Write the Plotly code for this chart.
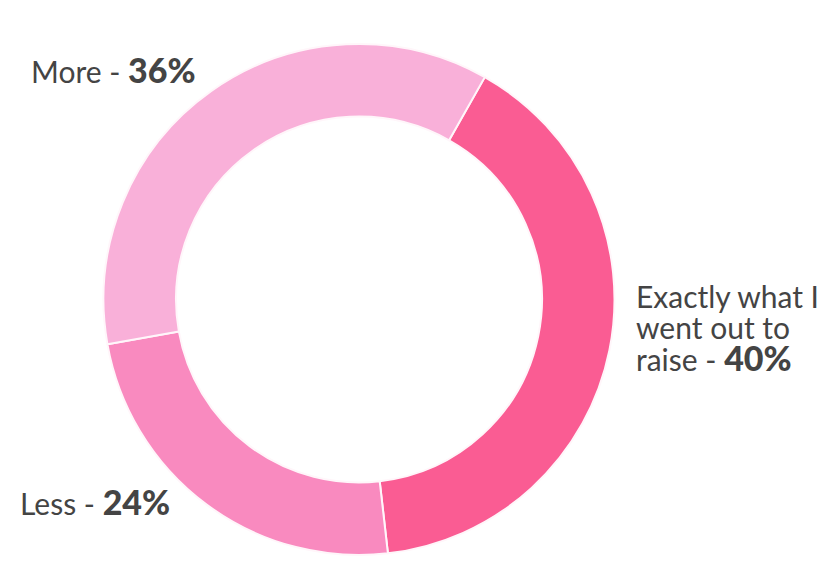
import plotly.graph_objects as go

labels = ["Exactly what I went out to raise", "Less", "More"]
values = [40, 24, 36]
colors = ["#FA5C93", "#F98ABF", "#F9B0D9"]

BOLD = "<span style='font-size:34px;font-weight:900'>{}</span>"

# label lines (text, left x px, centre y px) in page pixels
label_lines = [
    ("More - " + BOLD.format("36%"), 32, 70),
    ("Less - " + BOLD.format("24%"), 21, 501),
    ("Exactly what I", 637, 296),
    ("went out to", 637, 327),
    ("raise - " + BOLD.format("40%"), 637, 357),
]

W, H = 840, 585
OFF = 8    # page body margin
PAD = 3    # annotation padding before the first glyph


def px_x(v):
    return (v - OFF) / W


def px_y(v):
    return 1 - (v - OFF) / H


fig = go.Figure(go.Pie(
    labels=labels,
    values=values,
    hole=0.716,
    sort=False,
    direction="clockwise",
    rotation=29.5,
    textinfo="none",
    hoverinfo="label+percent",
    marker=dict(colors=colors, line=dict(color="#FFF6FA", width=2)),
    domain=dict(x=[px_x(103), px_x(615)], y=[px_y(555), px_y(44)]),
    showlegend=False,
))

for txt, lx, cy in label_lines:
    fig.add_annotation(x=px_x(lx - PAD), y=px_y(cy), xref="paper", yref="paper",
                       xanchor="left", yanchor="middle", text=txt,
                       showarrow=False, align="left",
                       font=dict(family="Lato", size=30, color="#444444"))

fig.update_layout(
    width=W, height=H,
    margin=dict(l=0, r=0, t=0, b=0),
    paper_bgcolor="white", plot_bgcolor="white",
)

fig.write_html("out.html")
